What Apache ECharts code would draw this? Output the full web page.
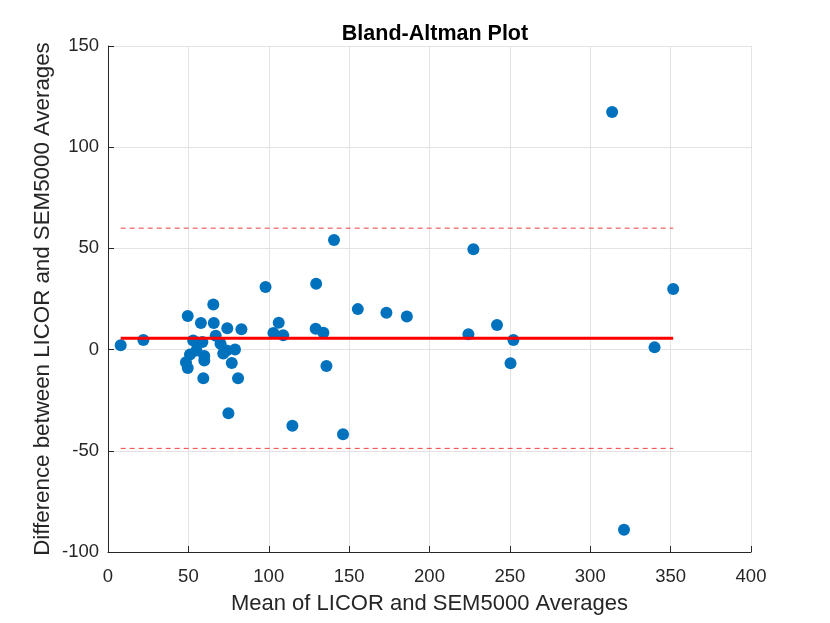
<!DOCTYPE html>
<html>
<head>
	<meta charset="utf-8" />
	<title>Bland-Altman Plot</title>
	<script src="https://cdn.jsdelivr.net/npm/echarts@6/dist/echarts.min.js"></script>
	<style>
		html, body { margin: 0; padding: 0; background: #fff; }
		#chart { width: 830px; height: 623px; }
	</style>
</head>
<body>
<div id="chart"></div>
<script type="text/javascript">
	// means of the two methods (x) and their differences (y)
	var means = [7.9, 22, 49.6, 48.5, 49.6, 51, 53, 55, 57.8, 58.7, 59.9, 59.9, 59.3,
		65.5, 65.8, 67, 70, 71.7, 73.8, 74.2, 74.9, 77, 79, 80.9, 83,
		98, 102.9, 106.2, 109, 114.7, 129.5, 129.2, 134, 135.9, 140.6, 146.2,
		155.4, 173.2, 185.9, 224.2, 227.3, 242, 250.4, 252.2, 313.6, 321, 340, 351.6];
	var diffs = [2.2, 4.8, 16.6, -6.2, -9.1, -2.4, 4.5, -0.4, 13.2, 3.7, -3.2, -5.4, -14.1,
		22.3, 13.1, 6.9, 2.9, -1.9, -0.4, 10.6, -31.4, -6.6, 0.1, -14.1, 10.1,
		30.9, 8.2, 13.3, 7.1, -37.6, 32.5, 10.3, 8.3, -8.1, 54.1, -41.8,
		20, 18.2, 16.4, 7.6, 49.6, 12.1, -6.7, 4.7, 117.4, -89, 1.1, 29.9];
	var meanDiff = 5.6;
	var upperLoA = 60;
	var lowerLoA = -48.8;
	var xTicks = [0, 50, 100, 150, 200, 250, 300, 350, 400];

	var pts = [];
	for (var i = 0; i < means.length; i++) {
		pts.push([means[i], diffs[i]]);
	}
	var xLo = Math.min.apply(null, means);
	var xHi = Math.max.apply(null, means);

	var txt = '#262626';
	var myChart = echarts.init(document.getElementById('chart'));
	var option = {
		animation: false,
		backgroundColor: '#fff',
		title: {
			text: 'Bland-Altman Plot',
			left: 430,
			textAlign: 'center',
			top: 18,
			textStyle: { fontFamily: 'Liberation Sans', fontSize: 21.5, fontWeight: 'bold', color: '#000' }
		},
		grid: { left: 108, right: 79, top: 46, bottom: 71 },
		xAxis: {
			type: 'value',
			min: xTicks[0],
			max: xTicks[xTicks.length - 1],
			interval: 50,
			name: 'Mean of LICOR and SEM5000 Averages',
			nameLocation: 'middle',
			nameGap: 41,
			nameMoveOverlap: false,
			nameTextStyle: { fontFamily: 'Liberation Sans', fontSize: 22, color: txt },
			axisLine: { onZero: false, lineStyle: { color: '#262626', width: 1 } },
			axisTick: { inside: true, length: 6, lineStyle: { color: '#262626' } },
			axisLabel: { fontFamily: 'Liberation Sans', fontSize: 18.5, color: txt, margin: 15 },
			splitLine: { show: true, lineStyle: { color: '#e3e3e3', width: 1 } }
		},
		yAxis: {
			type: 'value',
			min: -100,
			max: 150,
			interval: 50,
			name: 'Difference between LICOR and SEM5000 Averages',
			nameLocation: 'middle',
			nameGap: 54,
			nameMoveOverlap: false,
			nameTextStyle: { fontFamily: 'Liberation Sans', fontSize: 22.3, color: txt },
			axisLine: { show: true, onZero: false, lineStyle: { color: '#262626', width: 1 } },
			axisTick: { show: true, inside: true, length: 6, lineStyle: { color: '#262626' } },
			axisLabel: { fontFamily: 'Liberation Sans', fontSize: 18.5, color: txt, margin: 9 },
			splitLine: { show: true, lineStyle: { color: '#e3e3e3', width: 1 } }
		},
		series: [
			{
				name: 'upper',
				type: 'line',
				data: [[xLo, upperLoA], [xHi, upperLoA]],
				symbol: 'none',
				lineStyle: { color: '#f04040', width: 1, type: [5, 4] },
				z: 2
			},
			{
				name: 'lower',
				type: 'line',
				data: [[xLo, lowerLoA], [xHi, lowerLoA]],
				symbol: 'none',
				lineStyle: { color: '#f04040', width: 1, type: [5, 4] },
				z: 2
			},
			{
				name: 'pts',
				type: 'scatter',
				data: pts,
				symbolSize: 12,
				itemStyle: { color: '#0072BD', opacity: 1 },
				z: 3
			},
			{
				name: 'mean',
				type: 'line',
				data: [[xLo, meanDiff], [xHi, meanDiff]],
				symbol: 'none',
				lineStyle: { color: '#ff0000', width: 3 },
				z: 4
			}
		]
	};
	myChart.setOption(option);
</script>
</body>
</html>
